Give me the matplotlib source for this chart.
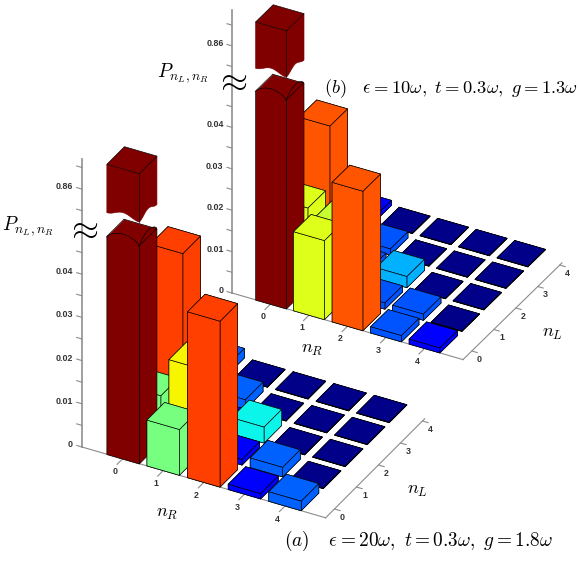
import numpy as np
import matplotlib
matplotlib.use('Agg')
import matplotlib.pyplot as plt
from mpl_toolkits.mplot3d import proj3d
from mpl_toolkits.mplot3d.art3d import Poly3DCollection

plt.rcParams['mathtext.fontset'] = 'cm'
plt.rcParams['font.family'] = ['Liberation Sans', 'DejaVu Sans']

n_ticks = [0, 1, 2, 3, 4]
z_ticks = [0, 0.005, 0.01, 0.015, 0.02, 0.025, 0.03, 0.035, 0.04, 0.045, 0.85, 0.86, 0.87]
z_labels = {0: '0', 0.01: '0.01', 0.02: '0.02', 0.03: '0.03', 0.04: '0.04', 0.86: '0.86'}

# rows are n_L, columns n_R
P_a = [[0.875, 0.0106, 0.0384, 0.0012, 0.0022],
       [0.0106, 0.0195, 0.0013, 0.0022, 0.0001],
       [0.0384, 0.0013, 0.0037, 0.0001, 0.0001],
       [0.0012, 0.0022, 0.0001, 0.0001, 0.0001],
       [0.0022, 0.0001, 0.0001, 0.0001, 0.0001]]
P_b = [[0.875, 0.0191, 0.0337, 0.0015, 0.0012],
       [0.0191, 0.0175, 0.0015, 0.0015, 0.0001],
       [0.0337, 0.0015, 0.0027, 0.0001, 0.0001],
       [0.0015, 0.0015, 0.0001, 0.0001, 0.0001],
       [0.0012, 0.0001, 0.0001, 0.0001, 0.0001]]

# value -> place on the jet map, the original colouring is not linear
knots_a = ([0.0001, 0.0012, 0.0022, 0.0037, 0.0106, 0.0195, 0.0384, 0.05],
           [0.01, 0.11, 0.22, 0.365, 0.495, 0.65, 0.84, 1.0])
knots_b = ([0.0001, 0.0012, 0.0015, 0.0027, 0.0175, 0.0191, 0.0337, 0.05],
           [0.01, 0.11, 0.21, 0.30, 0.59, 0.62, 0.82, 1.0])

W = 581
H = 564
AXIS_GREY = '#8c8c8c'
TICK_TEXT = '#333333'
BAR_LW = 0.45
CUT_LOW = 0.0503
CUT_HIGH = 0.0560


def fold(z):
    # broken axis: the top part runs at half the scale
    if z < 0.5:
        return z
    return 0.0597 + (z - 0.86) * 0.5


def setup_panel(origin, nr_px, nl_px, z_px, z_top):
    # origin, nr_px, nl_px in image pixels (y down), z_px = pixels per unit of P
    ax = fig.add_axes([0, 0, 1, 1], projection='3d', computed_zorder=False)
    ax.patch.set_alpha(0)
    ax.set_proj_type('ortho')
    ax.set_axis_off()
    ax.set_xlim(-1, 5)
    ax.set_ylim(-0.4, 4.1)
    ax.set_zlim(0, z_top)
    a_x, a_y = nr_px
    b_x, b_y = nl_px[0], -nl_px[1]
    tan_phi = np.sqrt((b_y / b_x) * (a_x / a_y))
    phi = np.arctan(tan_phi)
    sin_e = np.sqrt((a_y / a_x) * (b_y / b_x))
    elev = np.degrees(np.arcsin(sin_e))
    ax.view_init(elev=elev, azim=-np.degrees(phi))
    sx = a_x / np.sin(phi)
    sy = b_x / np.cos(phi)
    sz = z_px / np.cos(np.radians(elev))
    ax.set_box_aspect((sx * 6, sy * 4.5, sz * z_top))

    side = 0.8
    left, bottom = 0.1, 0.1
    for i in range(3):
        ax.set_position([left, bottom, side * H / W, side])
        ax.apply_aspect()
        p0 = to_px(ax, -1, -0.4, 0)
        p1 = to_px(ax, 5, -0.4, 0)
        side = side * (6 * a_x) / (p1[0] - p0[0])
        ax.set_position([left, bottom, side * H / W, side])
        ax.apply_aspect()
        p0 = to_px(ax, -1, -0.4, 0)
        left += (origin[0] - p0[0]) / W
        bottom += ((H - origin[1]) - p0[1]) / H
    ax.set_position([left, bottom, side * H / W, side])
    ax.apply_aspect()
    return ax


def to_px(ax, x, y, z):
    x2, y2, _ = proj3d.proj_transform(x, y, z, ax.get_proj())
    return ax.transData.transform((x2, y2))


def tick_text(ax, x, y, z, s, ha):
    px = to_px(ax, x, y, z)
    fig.text(px[0] / W, px[1] / H, s, ha=ha, va='center', fontsize=6.4,
             fontweight='bold', color=TICK_TEXT)


def add_face(ax, pts, color, order, edge='black'):
    poly = Poly3DCollection([pts], facecolor=color, edgecolor=edge, linewidths=BAR_LW)
    poly.set_zorder(order)
    ax.add_collection3d(poly)


def broken_bar(ax, i, j, value, color, order):
    x0, x1 = i - 0.4, i + 0.4
    y0, y1 = j - 0.4, j + 0.4
    t = np.linspace(0, 1, 30)
    # lower piece, rounded front and side at the cut
    add_face(ax, [(x0, y1, CUT_LOW), (x1, y1, CUT_LOW), (x1, y0, CUT_LOW), (x0, y0, CUT_LOW)], color, order, edge=color)
    arc = 0.0018 * np.sin(np.pi * t) ** 0.6
    front = [(x0 + (x1 - x0) * a, y0, CUT_LOW + b) for a, b in zip(t, arc)]
    add_face(ax, front + [(x1, y0, 0), (x0, y0, 0)], color, order + 0.1)
    side = [(x1, y0 + (y1 - y0) * a, CUT_LOW + b) for a, b in zip(t, arc)]
    add_face(ax, side + [(x1, y1, 0), (x1, y0, 0)], color, order + 0.1)
    ax.plot([x0, x1, x1], [y1, y1, y0], [CUT_LOW, CUT_LOW, CUT_LOW], color='black', lw=BAR_LW, zorder=order + 0.15)
    ax.plot([x0, x0], [y0, y1], [CUT_LOW, CUT_LOW], color='black', lw=BAR_LW, zorder=order + 0.05)
    # upper piece, wavy bottom without outline
    top = fold(value)
    wave = 0.0011 * np.sin(np.pi * t) ** 2
    front = [(x0 + (x1 - x0) * a, y0, CUT_HIGH + b) for a, b in zip(t, wave)]
    side = [(x1, y0 + (y1 - y0) * a, CUT_HIGH + b) for a, b in zip(t, wave)]
    add_face(ax, front + [(x1, y0, top), (x0, y0, top)], color, order + 0.2, edge=color)
    add_face(ax, side + [(x1, y1, top), (x1, y0, top)], color, order + 0.2, edge=color)
    add_face(ax, [(x0, y1, top), (x1, y1, top), (x1, y0, top), (x0, y0, top)], color, order + 0.3)
    ax.plot([x1, x1], [y0, y0], [CUT_HIGH, top], color='black', lw=BAR_LW, zorder=order + 0.3)


def draw_panel(ax, P, knots, z_end):
    # axis lines and ticks
    ax.plot([-1, -1], [-0.4, -0.4], [0, z_end], color='#999999', lw=1.3, zorder=1)
    ax.plot([-1, 5], [-0.4, -0.4], [0, 0], color=AXIS_GREY, lw=0.8, zorder=1)
    ax.plot([5, 5], [-0.4, 4.1], [0, 0], color=AXIS_GREY, lw=0.8, zorder=1)
    for z in z_ticks:
        zz = fold(z)
        ax.plot([-1, -1.13], [-0.4, -0.4], [zz, zz], color=AXIS_GREY, lw=0.8, zorder=1)
        if z in z_labels:
            tick_text(ax, -1.22, -0.4, zz, z_labels[z], 'right')
    for n in n_ticks:
        ax.plot([n, n], [-0.4, -0.65], [0, 0], color=AXIS_GREY, lw=0.8, zorder=1)
        tick_text(ax, n, -0.74, -0.0013, str(n), 'center')
        ax.plot([5, 5.14], [n, n], [0, 0], color=AXIS_GREY, lw=0.8, zorder=1)
        tick_text(ax, 5.2, n, -0.0015, str(n), 'center')

    # bars, far ones first
    order = 2
    for j in n_ticks[::-1]:
        for i in n_ticks:
            value = P[j][i]
            color = plt.cm.jet(np.interp(value, knots[0], knots[1]))
            if value > 0.5:
                broken_bar(ax, i, j, value, color, order)
            else:
                poly = ax.bar3d(i - 0.4, j - 0.4, 0, 0.8, 0.8, value, color=color,
                                edgecolor='black', linewidth=BAR_LW, shade=False)
                poly.set_zorder(order)
            order += 1


fig = plt.figure(figsize=(W / 100, H / 100), dpi=100)

ax_b = setup_panel((232, 293), (38.5, 11.1), (22, -21.5), 4140, 0.0684)
draw_panel(ax_b, P_b, knots_b, 0.0684)
ax_a = setup_panel((82, 447), (40.6, 11.8), (22, -22), 4320, 0.0667)
draw_panel(ax_a, P_a, knots_a, 0.0667)


def label(x, y, s, size):
    fig.text(x / W, 1 - y / H, s, ha='center', va='center', fontsize=size)


label(28, 226, r'$P_{n_L,n_R}$', 14)
label(82, 229, r'$\approx$', 25)
label(183, 73, r'$P_{n_L,n_R}$', 14)
label(231, 80, r'$\approx$', 25)
label(167, 513, r'$n_R$', 13)
label(312, 349, r'$n_R$', 13)
label(417, 491, r'$n_L$', 13)
label(552, 333, r'$n_L$', 13)
label(419, 541, r'$(a)\quad\,\epsilon=20\omega,\ t=0.3\omega,\ g=1.8\omega$', 13.9)
label(451, 89, r'$(b)\quad \epsilon=10\omega,\ t=0.3\omega,\ g=1.3\omega$', 13.35)

fig.savefig('out.png', dpi=100)
